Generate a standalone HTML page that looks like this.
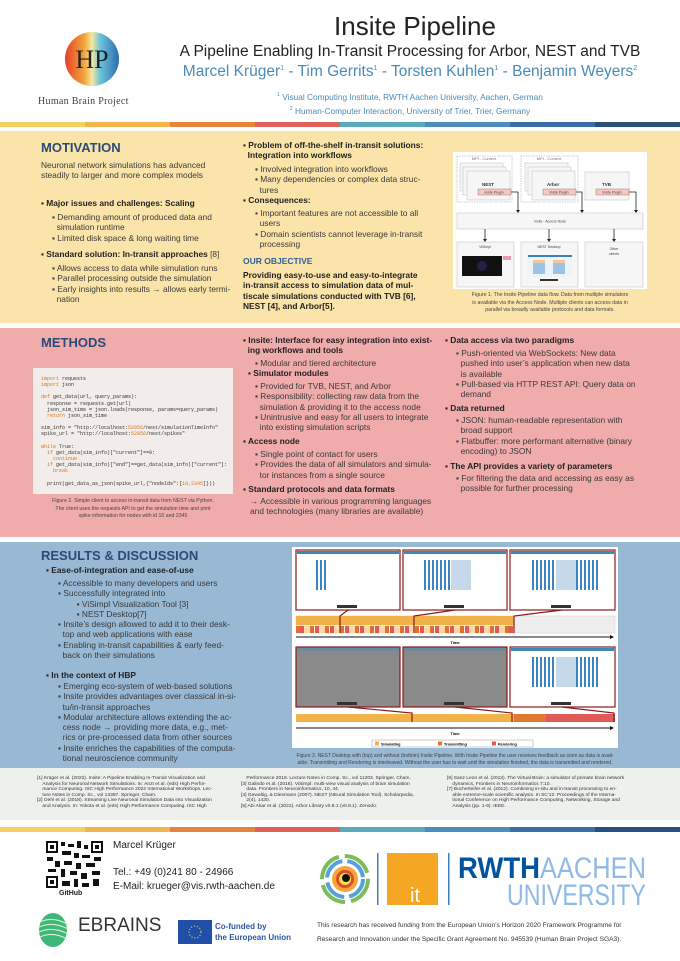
<!DOCTYPE html>
<html><head><meta charset="utf-8"><style>
*{margin:0;padding:0;box-sizing:border-box}
body{width:680px;height:961px;position:relative;background:#fff;font-family:"Liberation Sans",sans-serif;color:#333;overflow:hidden}
.a{position:absolute;white-space:nowrap}
.p{position:absolute;left:0;width:680px}
.h{font-weight:bold;color:#2c4a78;font-size:13px}
.m{font-size:8.4px;line-height:10.3px;color:#3a3a3a}
.b{font-weight:bold;color:#222}
.code{font-family:"Liberation Mono",monospace;font-size:5px;color:#333}
.kw{color:#d4761a}
.cap{font-size:5.2px;color:#444;text-align:center;line-height:7.5px}
.ref{font-size:4.9px;color:#333;line-height:5.6px}
</style></head><body>
<!-- header -->
<svg class="a" style="left:60px;top:30px" width="64" height="60" viewBox="0 0 64 60">
<defs><linearGradient id="g1" x1="0" x2="1"><stop offset="0" stop-color="#e8402a"/><stop offset=".35" stop-color="#f2a33a"/><stop offset=".5" stop-color="#f4e8a0"/><stop offset=".65" stop-color="#6cc4d8"/><stop offset="1" stop-color="#2a6db4"/></linearGradient></defs>
<ellipse cx="32" cy="29" rx="27" ry="27" fill="url(#g1)"/>
<text x="32" y="38" font-family="Liberation Serif" font-size="26" text-anchor="middle" fill="#222">HP</text></svg>
<div class="a" style="left:38px;top:96px;font-family:'Liberation Serif',serif;font-size:10px;color:#444;letter-spacing:.3px">Human Brain Project</div>
<div class="a" style="left:240px;width:350px;text-align:center;top:11px;font-size:26px;color:#222">Insite Pipeline</div>
<div class="a" style="left:160px;width:500px;text-align:center;top:43px;font-size:15.5px;color:#222">A Pipeline Enabling In-Transit Processing for Arbor, NEST and TVB</div>
<div class="a" style="left:160px;width:500px;text-align:center;top:63px;font-size:15.5px;color:#4a8bb8">Marcel Krüger<sup style="font-size:7px">1</sup> - Tim Gerrits<sup style="font-size:7px">1</sup> - Torsten Kuhlen<sup style="font-size:7px">1</sup> - Benjamin Weyers<sup style="font-size:7px">2</sup></div>
<div class="a" style="left:160px;width:500px;text-align:center;top:92px;font-size:8.3px;color:#4a8bb8"><sup style="font-size:5px">1</sup> Visual Computing Institute, RWTH Aachen University, Aachen, German</div>
<div class="a" style="left:160px;width:500px;text-align:center;top:106px;font-size:8.3px;color:#4a8bb8"><sup style="font-size:5px">2</sup> Human-Computer Interaction, University of Trier, Trier, Germany</div>
<div class="p" style="top:122px;height:5px;background:linear-gradient(90deg,#f5cf5f 0 12.5%,#f2b44c 12.5% 25%,#e8833a 25% 37.5%,#e0605a 37.5% 50%,#5aa9bd 50% 62.5%,#4d8cbf 62.5% 75%,#3a6ea6 75% 87.5%,#2a4f7a 87.5%)"></div>

<!-- motivation -->
<div class="p" style="top:131px;height:192px;background:#fae4a9"></div>
<div class="a h" style="left:41px;top:140px">MOTIVATION</div>
<div class="a m" style="left:41px;top:160px">Neuronal network simulations has advanced<br>steadily to larger and more complex models</div>
<div class="a m" style="left:41px;top:198px"><span class="b">▪ Major issues and challenges: Scaling</span></div>
<div class="a m" style="left:52px;top:212px">▪ Demanding amount of produced data and<br>&nbsp;&nbsp;simulation runtime<br>▪ Limited disk space &amp; long waiting time</div>
<div class="a m" style="left:41px;top:249px"><span class="b">▪ Standard solution: In-transit approaches</span> [8]</div>
<div class="a m" style="left:52px;top:263px">▪ Allows access to data while simulation runs<br>▪ Parallel processing outside the simulation<br>▪ Early insights into results → allows early termi-<br>&nbsp;&nbsp;nation</div>
<div class="a m b" style="left:243px;top:140px">▪ Problem of off-the-shelf in-transit solutions:<br>&nbsp;&nbsp;Integration into workflows</div>
<div class="a m" style="left:255px;top:164px">▪ Involved integration into workflows<br>▪ Many dependencies or complex data struc-<br>&nbsp;&nbsp;tures</div>
<div class="a m b" style="left:243px;top:195px">▪ Consequences:</div>
<div class="a m" style="left:255px;top:208px">▪ Important features are not accessible to all<br>&nbsp;&nbsp;users<br>▪ Domain scientists cannot leverage in-transit<br>&nbsp;&nbsp;processing</div>
<div class="a" style="left:243px;top:256px;font-size:8.5px;font-weight:bold;color:#2d5f9a">OUR OBJECTIVE</div>
<div class="a m b" style="left:243px;top:270px">Providing easy-to-use and easy-to-integrate<br>in-transit access to simulation data of mul-<br>tiscale simulations conducted with TVB [6],<br>NEST [4], and Arbor[5].</div>
<!-- figure 1 -->
<svg class="a" style="left:453px;top:152px" width="194" height="137" viewBox="453 152 194 137" font-family="Liberation Sans" font-size="4">
<rect x="453" y="152" width="194" height="137" fill="#fff"/>
<g fill="none" stroke="#999" stroke-dasharray="1.5,1" stroke-width=".5"><rect x="457" y="156" width="55" height="46"/><rect x="521" y="156" width="57" height="46"/></g>
<text x="484" y="160" text-anchor="middle" fill="#777">MPI - Context</text><text x="549" y="160" text-anchor="middle" fill="#777">MPI - Context</text>
<g fill="#f6f6f6" stroke="#bbb" stroke-width=".5">
<rect x="460" y="163" width="43" height="28"/><rect x="463" y="167" width="43" height="28"/><rect x="467" y="171" width="43" height="29"/>
<rect x="525" y="163" width="43" height="28"/><rect x="528" y="167" width="43" height="28"/><rect x="532" y="171" width="43" height="29"/>
<rect x="585" y="172" width="44" height="28"/>
<rect x="457" y="213" width="186" height="16"/>
<rect x="457" y="242" width="57" height="45"/><rect x="521" y="242" width="57" height="45"/><rect x="585" y="242" width="58" height="45"/></g>
<g fill="#f3c9c4" stroke="#a55" stroke-width=".4"><rect x="478" y="189" width="33" height="6"/><rect x="543" y="189" width="33" height="6"/><rect x="596" y="189" width="33" height="6"/></g>
<g font-weight="bold" fill="#333" font-size="4.5"><text x="482" y="186">NEST</text><text x="547" y="186">Arbor</text><text x="602" y="186">TVB</text></g>
<g fill="#444" font-size="3.5" text-anchor="middle"><text x="494" y="193.5">Insite Plugin</text><text x="559" y="193.5">Insite Plugin</text><text x="612" y="193.5">Insite Plugin</text>
<text x="550" y="222.5">Insite - Access Node</text><text x="485" y="248">ViSimpl</text><text x="549" y="248">NEST Desktop</text><text x="614" y="250">Other</text><text x="614" y="255">clients</text></g>
<path d="M511 192H518V211M576 192H582V211M629 192H636V211M485 229V240M549 229V240M614 229V240" stroke="#222" stroke-width=".8" fill="none"/>
<path d="M516 210h4l-2 3zM580 210h4l-2 3zM634 210h4l-2 3zM483 239h4l-2 3zM547 239h4l-2 3zM612 239h4l-2 3z" fill="#222"/>
<rect x="462" y="256" width="40" height="20" fill="#111"/><circle cx="482" cy="266" r="5" fill="#224"/><rect x="503" y="256" width="8" height="4" fill="#e9a"/>
<rect x="528" y="255" width="44" height="22" fill="#eef3f8"/><rect x="528" y="255" width="44" height="2" fill="#3a7fc0"/>
<g fill="#9cc3e3"><rect x="533" y="260" width="12" height="14"/><rect x="553" y="260" width="12" height="14"/></g><g fill="#f3c7a0"><rect x="533" y="260" width="12" height="3"/><rect x="553" y="260" width="12" height="3"/></g>
<rect x="540" y="279" width="18" height="2" fill="#333"/>
</svg>
<div class="a cap" style="left:453px;width:194px;top:292px">Figure 1. The Insite Pipeline data flow. Data from multiple simulators<br>is available via the Access Node. Multiple clients can access data in<br>parallel via broadly available protocols and data formats.</div>

<!-- methods -->
<div class="p" style="top:328px;height:209px;background:#efacab"></div>
<div class="a h" style="left:41px;top:335px">METHODS</div>
<div class="a" style="left:33px;top:368px;width:200px;height:126px;background:#f2edea"></div>
<div class="a code" style="left:41px;top:376px;line-height:6.15px"><span class="kw">import</span> requests<br><span class="kw">import</span> json<br><br><span class="kw">def</span> get_data(url, query_params):<br>&nbsp;&nbsp;response = requests.get(url)<br>&nbsp;&nbsp;json_sim_time = json.loads(response, params=query_params)<br>&nbsp;&nbsp;<span class="kw">return</span> json_sim_time<br><br>sim_info = "http://localhost:<span class="kw">52056</span>/nest/simulationTimeInfo"<br>spike_url = "http://localhost:<span class="kw">52056</span>/nest/spikes"<br><br><span class="kw">while</span> True:<br>&nbsp;&nbsp;<span class="kw">if</span> get_data(sim_info)["current"]==0:<br>&nbsp;&nbsp;&nbsp;&nbsp;<span class="kw">continue</span><br>&nbsp;&nbsp;<span class="kw">if</span> get_data(sim_info)["end"]==get_data(sim_info)["current"]:<br>&nbsp;&nbsp;&nbsp;&nbsp;<span class="kw">break</span><br><br>&nbsp;&nbsp;print(get_data_as_json(spike_url,{"nodeIds":[<span class="kw">10,2345</span>]}))</div>
<div class="a cap" style="left:33px;width:200px;top:498px;line-height:7.6px">Figure 2. Simple client to access in-transit data from NEST via Python.<br>The client uses the requests API to get the simulation time and print<br>spike information for nodes with id 10 and 2345</div>
<div class="a m" style="left:243px;top:335px"><span class="b">▪ Insite: Interface for easy integration into exist-<br>&nbsp;&nbsp;ing workflows and tools</span></div>
<div class="a m" style="left:255px;top:358px">▪ Modular and tiered architecture</div>
<div class="a m b" style="left:248px;top:368px">▪ Simulator modules</div>
<div class="a m" style="left:255px;top:381px">▪ Provided for TVB, NEST, and Arbor<br>▪ Responsibility: collecting raw data from the<br>&nbsp;&nbsp;simulation &amp; providing it to the access node<br>▪ Unintrusive and easy for all users to integrate<br>&nbsp;&nbsp;into existing simulation scripts</div>
<div class="a m b" style="left:243px;top:436px">▪ Access node</div>
<div class="a m" style="left:255px;top:449px">▪ Single point of contact for users<br>▪ Provides the data of all simulators and simula-<br>&nbsp;&nbsp;tor instances from a single source</div>
<div class="a m b" style="left:243px;top:484px">▪ Standard protocols and data formats</div>
<div class="a m" style="left:250px;top:496px">→ Accessible in various programming languages<br>and technologies (many libraries are available)</div>
<div class="a m b" style="left:445px;top:335px">▪ Data access via two paradigms</div>
<div class="a m" style="left:456px;top:348px">▪ Push-oriented via WebSockets: New data<br>&nbsp;&nbsp;pushed into user’s application when new data<br>&nbsp;&nbsp;is available<br>▪ Pull-based via HTTP REST API: Query data on<br>&nbsp;&nbsp;demand</div>
<div class="a m b" style="left:445px;top:403px">▪ Data returned</div>
<div class="a m" style="left:456px;top:415px">▪ JSON: human-readable representation with<br>&nbsp;&nbsp;broad support<br>▪ Flatbuffer: more performant alternative (binary<br>&nbsp;&nbsp;encoding) to JSON</div>
<div class="a m b" style="left:445px;top:461px">▪ The API provides a variety of parameters</div>
<div class="a m" style="left:456px;top:473px">▪ For filtering the data and accessing as easy as<br>&nbsp;&nbsp;possible for further processing</div>

<!-- results -->
<div class="p" style="top:542px;height:226px;background:#98b8d4"></div>
<div class="a h" style="left:41px;top:548px">RESULTS &amp; DISCUSSION</div>
<div class="a m b" style="left:46px;top:565px">▪ Ease-of-integration and ease-of-use</div>
<div class="a m" style="left:58px;top:578px">▪ Accessible to many developers and users<br>▪ Successfully integrated into<br>&nbsp;&nbsp;&nbsp;&nbsp;&nbsp;&nbsp;&nbsp;&nbsp;▪ ViSimpl Visualization Tool [3]<br>&nbsp;&nbsp;&nbsp;&nbsp;&nbsp;&nbsp;&nbsp;&nbsp;▪ NEST Desktop[7]<br>▪ Insite’s design allowed to add it to their desk-<br>&nbsp;&nbsp;top and web applications with ease<br>▪ Enabling in-transit capabilities &amp; early feed-<br>&nbsp;&nbsp;back on their simulations</div>
<div class="a m b" style="left:46px;top:670px">▪ In the context of HBP</div>
<div class="a m" style="left:58px;top:681px">▪ Emerging eco-system of web-based solutions<br>▪ Insite provides advantages over classical in-si-<br>&nbsp;&nbsp;tu/in-transit approaches<br>▪ Modular architecture allows extending the ac-<br>&nbsp;&nbsp;cess node → providing more data, e.g., met-<br>&nbsp;&nbsp;rics or pre-processed data from other sources<br>▪ Insite enriches the capabilities of the computa-<br>&nbsp;&nbsp;tional neuroscience community</div>
<svg class="a" style="left:292px;top:547px" width="326" height="201" viewBox="0 0 326 201" font-family="Liberation Sans">
<rect width="326" height="201" fill="#fff"/>
<defs><pattern id="sp" width="4" height="50" patternUnits="userSpaceOnUse"><rect x="0" width="2" height="50" fill="#3b84c0"/><rect x="0" width="2" height="7" fill="#f0a050"/></pattern></defs>
<g stroke="#8b1a1a" stroke-width="1.2">
<rect x="4" y="3" width="104" height="60" fill="#fff"/><rect x="111" y="3" width="104" height="60" fill="#fff"/><rect x="218" y="3" width="105" height="60" fill="#fff"/>
<rect x="4" y="100" width="104" height="60" fill="#8a8a8a"/><rect x="111" y="100" width="104" height="60" fill="#8a8a8a"/><rect x="218" y="100" width="105" height="60" fill="#fff"/></g>
<g fill="#3a8ab8"><rect x="5" y="4" width="102" height="3"/><rect x="112" y="4" width="102" height="3"/><rect x="219" y="4" width="103" height="3"/><rect x="5" y="101" width="102" height="3" fill="#6a8aa0"/><rect x="112" y="101" width="102" height="3" fill="#6a8aa0"/><rect x="219" y="101" width="103" height="3"/></g>
<rect x="24" y="13" width="12" height="30" fill="url(#sp)"/>
<rect x="131" y="13" width="28" height="30" fill="url(#sp)"/><rect x="159" y="13" width="20" height="30" fill="#c5d9ea"/>
<rect x="238" y="13" width="26" height="30" fill="url(#sp)"/><rect x="264" y="13" width="20" height="30" fill="#c5d9ea"/><rect x="284" y="13" width="22" height="30" fill="url(#sp)"/>
<rect x="238" y="110" width="26" height="30" fill="url(#sp)"/><rect x="264" y="110" width="20" height="30" fill="#c5d9ea"/><rect x="284" y="110" width="22" height="30" fill="url(#sp)"/>
<g fill="#333"><rect x="45" y="58" width="20" height="3"/><rect x="152" y="58" width="20" height="3"/><rect x="259" y="58" width="20" height="3"/><rect x="45" y="155" width="20" height="3"/><rect x="152" y="155" width="20" height="3"/><rect x="259" y="155" width="20" height="3"/></g>
<rect x="4" y="69" width="319" height="17" fill="#eee" stroke="#ccc" stroke-width=".5"/>
<rect x="4" y="69" width="218" height="9" fill="#f2b24a"/>
<g fill="#e07030"><rect x="4" y="79" width="4" height="7"/><rect x="18" y="79" width="4" height="7"/><rect x="33" y="79" width="4" height="7"/><rect x="48" y="79" width="4" height="7"/><rect x="63" y="79" width="4" height="7"/><rect x="78" y="79" width="4" height="7"/><rect x="93" y="79" width="4" height="7"/><rect x="108" y="79" width="4" height="7"/><rect x="123" y="79" width="4" height="7"/><rect x="138" y="79" width="4" height="7"/><rect x="153" y="79" width="4" height="7"/><rect x="168" y="79" width="4" height="7"/><rect x="183" y="79" width="4" height="7"/><rect x="198" y="79" width="4" height="7"/><rect x="213" y="79" width="4" height="7"/></g>
<g fill="#e05858"><rect x="8" y="79" width="4" height="7"/><rect x="23" y="79" width="4" height="7"/><rect x="38" y="79" width="4" height="7"/><rect x="53" y="79" width="4" height="7"/><rect x="68" y="79" width="4" height="7"/><rect x="83" y="79" width="4" height="7"/><rect x="98" y="79" width="4" height="7"/><rect x="113" y="79" width="4" height="7"/><rect x="128" y="79" width="4" height="7"/><rect x="143" y="79" width="4" height="7"/><rect x="158" y="79" width="4" height="7"/><rect x="173" y="79" width="4" height="7"/><rect x="188" y="79" width="4" height="7"/><rect x="203" y="79" width="4" height="7"/><rect x="217" y="79" width="4" height="7"/></g>
<g fill="#f8d8a8"><rect x="12" y="79" width="6" height="7"/><rect x="27" y="79" width="6" height="7"/><rect x="42" y="79" width="6" height="7"/><rect x="57" y="79" width="6" height="7"/><rect x="72" y="79" width="6" height="7"/><rect x="87" y="79" width="6" height="7"/><rect x="102" y="79" width="6" height="7"/><rect x="117" y="79" width="6" height="7"/><rect x="132" y="79" width="6" height="7"/><rect x="147" y="79" width="6" height="7"/><rect x="162" y="79" width="6" height="7"/><rect x="177" y="79" width="6" height="7"/><rect x="192" y="79" width="6" height="7"/><rect x="207" y="79" width="6" height="7"/></g>
<rect x="4" y="167" width="218" height="8" fill="#f2b24a"/><rect x="222" y="167" width="32" height="8" fill="#e07a30"/><rect x="254" y="167" width="69" height="8" fill="#e05a58"/>
<g stroke="#8b1a1a" stroke-width="1.2" fill="none"><path d="M56 63L48 69V86M163 63L122 69V86M270 63L222 69V86M56 160L120 166V175M163 160L220 166V175M270 160L322 166V175"/></g>
<path d="M4 90H318M4 181H318" stroke="#111" stroke-width="1" fill="none"/>
<path d="M318 88l4 2-4 2zM318 179l4 2-4 2z" fill="#111"/>
<text x="163" y="97" font-size="4" font-weight="bold" text-anchor="middle">Time</text><text x="163" y="188" font-size="4" font-weight="bold" text-anchor="middle">Time</text>
<rect x="80" y="193" width="161" height="7" fill="#fff" stroke="#999" stroke-width=".5"/>
<rect x="83" y="194.5" width="4" height="4" fill="#f2b24a"/><text x="89" y="198.5" font-size="3.8" font-weight="bold">Simulating</text>
<rect x="146" y="194.5" width="4" height="4" fill="#e07a30"/><text x="152" y="198.5" font-size="3.8" font-weight="bold">Transmitting</text>
<rect x="200" y="194.5" width="4" height="4" fill="#e05a58"/><text x="206" y="198.5" font-size="3.8" font-weight="bold">Rendering</text>
</svg>
<div class="a cap" style="left:270px;width:370px;top:753px;line-height:7px;font-size:5px">Figure 3. NEST Desktop with (top) and without (bottom) Insite Pipeline. With Insite Pipeline the user receives feedback as soon as data is avail-<br>able. Transmitting and Rendering is interleaved. Without the user has to wait until the simulation finished, the data is transmitted and rendered.</div>

<!-- references -->
<div class="p" style="top:768px;height:52px;background:#eef0ee"></div>
<div class="a ref" style="left:37px;top:776px">[1] Krüger et al. (2022). Insite: A Pipeline Enabling In-Transit Visualization and<br>&nbsp;&nbsp;&nbsp;&nbsp;Analysis for Neuronal Network Simulations. In: Anzt et al. (eds) High Perfor-<br>&nbsp;&nbsp;&nbsp;&nbsp;mance Computing. ISC High Performance 2022 International Workshops. Lec-<br>&nbsp;&nbsp;&nbsp;&nbsp;ture Notes in Comp. Sc., vol 13387. Springer, Cham.<br>[2] Oehl et al. (2018). Streaming Live Neuronal Simulation Data into Visualization<br>&nbsp;&nbsp;&nbsp;&nbsp;and Analysis. In: Yokota et al. (eds) High Performance Computing. ISC High</div>
<div class="a ref" style="left:241px;top:776px">&nbsp;&nbsp;&nbsp;&nbsp;Performance 2018. Lecture Notes in Comp. Sc., vol 11203. Springer, Cham.<br>[3] Galindo et al. (2016). ViSimpl: multi-view visual analysis of brain simulation<br>&nbsp;&nbsp;&nbsp;&nbsp;data. Frontiers in Neuroinformatics, 10, 44.<br>[4] Gewaltig, &amp; Diesmann (2007). NEST (NEural Simulation Tool). Scholarpedia,<br>&nbsp;&nbsp;&nbsp;&nbsp;2(4), 1430.<br>[5] Abi Akar et al. (2022). Arbor Library v0.8.1 (v0.8.1). Zenodo.</div>
<div class="a ref" style="left:447px;top:776px">[6] Sanz Leon et al. (2013). The Virtual Brain: a simulator of primate brain network<br>&nbsp;&nbsp;&nbsp;&nbsp;dynamics, Frontiers in Neuroinformatics 7:10.<br>[7] Bucherteifer et al. (2012). Combining in-situ and in-transit processing to en-<br>&nbsp;&nbsp;&nbsp;&nbsp;able extreme-scale scientific analysis. In SC'12: Proceedings of the Interna-<br>&nbsp;&nbsp;&nbsp;&nbsp;tional Conference on High Performance Computing, Networking, Storage and<br>&nbsp;&nbsp;&nbsp;&nbsp;Analysis (pp. 1-9). IEEE.</div>
<div class="p" style="top:827px;height:5px;background:linear-gradient(90deg,#f5cf5f 0 12.5%,#f2b44c 12.5% 25%,#e8833a 25% 37.5%,#e0605a 37.5% 50%,#5aa9bd 50% 62.5%,#4d8cbf 62.5% 75%,#3a6ea6 75% 87.5%,#2a4f7a 87.5%)"></div>

<!-- footer -->
<svg class="a" style="left:46px;top:841px" width="57" height="47" viewBox="0 0 57 47">
<rect width="57" height="47" fill="#fff"/>
<g fill="#111"><rect x="0" y="0" width="12" height="12"/><rect x="45" y="0" width="12" height="12"/><rect x="0" y="35" width="12" height="12"/>
<rect x="15" y="1" width="4" height="4"/><rect x="22" y="3" width="6" height="3"/><rect x="31" y="0" width="4" height="7"/><rect x="38" y="4" width="4" height="4"/>
<rect x="16" y="10" width="9" height="4"/><rect x="28" y="12" width="5" height="5"/><rect x="36" y="14" width="8" height="3"/><rect x="48" y="16" width="7" height="4"/>
<rect x="1" y="16" width="6" height="4"/><rect x="9" y="20" width="5" height="6"/><rect x="18" y="20" width="8" height="4"/><rect x="30" y="22" width="5" height="6"/><rect x="40" y="22" width="9" height="4"/>
<rect x="2" y="28" width="8" height="3"/><rect x="15" y="28" width="4" height="8"/><rect x="24" y="30" width="7" height="4"/><rect x="35" y="32" width="6" height="6"/><rect x="46" y="30" width="8" height="4"/>
<rect x="16" y="40" width="8" height="5"/><rect x="28" y="38" width="4" height="8"/><rect x="36" y="42" width="7" height="4"/><rect x="47" y="38" width="6" height="7"/></g>
<g fill="#fff"><rect x="2" y="2" width="8" height="8"/><rect x="47" y="2" width="8" height="8"/><rect x="2" y="37" width="8" height="8"/></g>
<g fill="#111"><rect x="4" y="4" width="4" height="4"/><rect x="49" y="4" width="4" height="4"/><rect x="4" y="39" width="4" height="4"/></g></svg>
<div class="a" style="left:59px;top:890px;font-size:7px;font-weight:bold;color:#222">GitHub</div>
<div class="a" style="left:113px;top:840px;font-size:10px;color:#222">Marcel Krüger</div>
<div class="a" style="left:113px;top:867px;font-size:10px;color:#222">Tel.: +49 (0)241 80 - 24966</div>
<div class="a" style="left:113px;top:881px;font-size:10px;color:#222">E-Mail: krueger@vis.rwth-aachen.de</div>
<svg class="a" style="left:318px;top:850px" width="335" height="58" viewBox="318 850 335 58">
<circle cx="345" cy="879" r="23" fill="none" stroke="#7cbd5a" stroke-width="4" stroke-dasharray="30 6"/>
<circle cx="345" cy="879" r="18" fill="none" stroke="#5aa0d8" stroke-width="4" stroke-dasharray="24 5"/>
<circle cx="345" cy="879" r="13" fill="#f2a73a"/><circle cx="345" cy="879" r="9" fill="#e04a2a"/><circle cx="345" cy="879" r="6" fill="#f6e04a"/><circle cx="346" cy="878" r="4" fill="#111"/>
<rect x="377" y="853" width="1.5" height="52" fill="#3a7ec0"/><rect x="448" y="853" width="1.5" height="52" fill="#3a7ec0"/>
<rect x="387" y="853" width="51" height="52" fill="#f5a623"/>
<text x="410" y="902" font-size="20" fill="#fff" font-family="Liberation Sans">it</text>
<text x="458" y="878" font-size="30" font-weight="bold" textLength="82" lengthAdjust="spacingAndGlyphs" fill="#00549f">RWTH</text>
<text x="540" y="878" font-size="30" textLength="106" lengthAdjust="spacingAndGlyphs" fill="#8ebae5">AACHEN</text>
<text x="507" y="905" font-size="30" textLength="139" lengthAdjust="spacingAndGlyphs" fill="#8ebae5">UNIVERSITY</text>
</svg>
<svg class="a" style="left:38px;top:912px" width="32" height="36" viewBox="0 0 32 36">
<ellipse cx="15" cy="18" rx="14" ry="17" fill="#3cb878"/>
<g stroke="#d9f2c6" stroke-width="1.2" fill="none"><path d="M2 10Q15 4 29 12M1 15Q15 9 30 17M1 20Q15 14 30 22M2 25Q15 19 29 27"/></g></svg>
<div class="a" style="left:78px;top:915px;font-size:19px;color:#333">EBRAINS</div>
<svg class="a" style="left:178px;top:920px" width="34" height="24" viewBox="0 0 34 24"><rect width="34" height="24" fill="#1f4fa6"/><circle cx="17" cy="12" r="6" fill="none" stroke="#f7d038" stroke-width="1.2" stroke-dasharray="1 2"/></svg>
<div class="a" style="left:215px;top:921px;font-size:8px;font-weight:bold;color:#2a56a8;line-height:11px">Co-funded by<br>the European Union</div>
<div class="a" style="left:317px;top:919px;font-size:6.6px;color:#333;line-height:14px">This research has received funding from the European Union’s Horizon 2020 Framework Programme for<br>Research and Innovation under the Specific Grant Agreement No. 945539 (Human Brain Project SGA3).</div>
</body></html>
